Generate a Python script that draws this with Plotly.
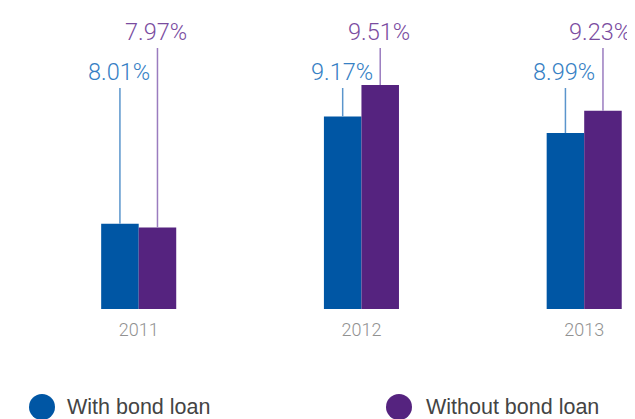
import plotly.graph_objects as go

# data
years = ["2011", "2012", "2013"]
with_bond = [8.01, 9.17, 8.99]
without_bond = [7.97, 9.51, 9.23]

BLUE = "#0056a4"
PURPLE = "#55237f"
BLUE_TXT = "#3680c4"
PURPLE_TXT = "#7a4c9f"
BLUE_LINE = "#5b95cc"
PURPLE_LINE = "#9a7cbf"

# page body has an 8px margin, so the figure is shrunk and shifted by it
PAD = 8
W, H = 635 - PAD, 419 - PAD

# axis scale (bar baseline does not start at 0 in the original)
y_min = 7.088
px_per_unit = 92.5
base_px = 309            # baseline, in window pixels
plot_h = base_px - PAD
y_max = y_min + plot_h / px_per_unit

# label heights in window pixels
blue_label_px, purple_label_px = 72, 32
blue_line_top_px, purple_line_top_px = 88, 48

bargap = 0.663
offset = (1 - bargap) / 4
step_px = 222.75
first_px = 138.7 - PAD
xs = list(range(len(years)))

LIGHT_FONT = "Roboto, Liberation Sans, Arial, sans-serif"


def px_to_y(px):
    return y_min + (base_px - px) / px_per_unit


fig = go.Figure()
fig.add_trace(go.Bar(x=xs, y=with_bond, name="With bond loan",
                     marker=dict(color=BLUE, line=dict(width=0))))
fig.add_trace(go.Bar(x=xs, y=without_bond, name="Without bond loan",
                     marker=dict(color=PURPLE, line=dict(width=0))))

for i, (a, b) in enumerate(zip(with_bond, without_bond)):
    last = i == len(xs) - 1
    fig.add_shape(type="line", xref="x", yref="y",
                  x0=i - offset, x1=i - offset, y0=a, y1=px_to_y(blue_line_top_px),
                  line=dict(color=BLUE_LINE, width=1.5))
    fig.add_shape(type="line", xref="x", yref="y",
                  x0=i + offset, x1=i + offset, y0=b, y1=px_to_y(purple_line_top_px),
                  line=dict(color=PURPLE_LINE, width=1.5))
    fig.add_annotation(x=i - offset, y=px_to_y(blue_label_px), text=f"{a:.2f}%",
                       showarrow=False, xanchor="center", yanchor="middle", xshift=-1,
                       font=dict(size=23.5, color=BLUE_TXT, family=LIGHT_FONT, weight=300))
    # last label sits a bit left so it stays inside the frame
    fig.add_annotation(x=i + offset, y=px_to_y(purple_label_px), text=f"{b:.2f}%",
                       showarrow=False, xanchor="center", yanchor="middle",
                       xshift=-3 if last else -1,
                       font=dict(size=23.5, color=PURPLE_TXT, family=LIGHT_FONT, weight=300))

# legend drawn by hand (round markers)
legend_y = (base_px - 407) / plot_h
for cx, tx, col, label in [(42, 65, BLUE, "With bond loan"),
                           (399, 424, PURPLE, "Without bond loan")]:
    fig.add_shape(type="circle", xref="paper", yref="paper",
                  xsizemode="pixel", ysizemode="pixel",
                  xanchor=(cx - PAD) / W, yanchor=legend_y,
                  x0=-13, x1=13, y0=-13, y1=13,
                  fillcolor=col, line=dict(width=0))
    fig.add_annotation(xref="paper", yref="paper", x=(tx - PAD) / W, y=legend_y,
                       text=label, showarrow=False, xanchor="left", yanchor="middle",
                       font=dict(size=21.5, color="#444444"))

fig.update_layout(
    width=W, height=H,
    margin=dict(l=0, r=0, t=0, b=H - plot_h),
    barmode="group", bargap=bargap, bargroupgap=0,
    plot_bgcolor="white", paper_bgcolor="white",
    showlegend=False,
    font=dict(family="Liberation Sans, Arial, sans-serif"),
)
fig.update_xaxes(range=[-first_px / step_px, (W - first_px) / step_px],
                 tickvals=xs, ticktext=years, ticks="", ticklabelstandoff=8,
                 tickfont=dict(size=18, color="#919191", family=LIGHT_FONT, weight=300),
                 showgrid=False, zeroline=False, showline=False)
fig.update_yaxes(range=[y_min, y_max], visible=False, showgrid=False)

fig.write_html("out.html", post_script="document.documentElement.style.overflow='hidden';")
